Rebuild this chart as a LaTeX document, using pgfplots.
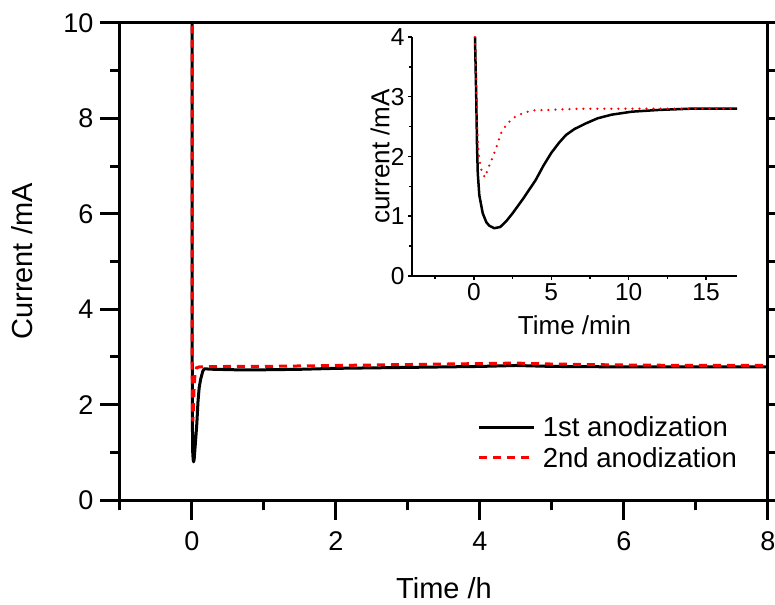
\documentclass[border=0pt]{standalone}
\usepackage{fontspec}
\setmainfont{Liberation Sans}
\usepackage{pgfplots}
\pgfplotsset{compat=1.18}
\begin{document}
\begin{tikzpicture}
\begin{axis}[
  at={(0pt,0pt)}, anchor=south west, scale only axis,
  width=648pt, height=477pt,
  xmin=-1, xmax=8, ymin=0, ymax=10,
  xtick={0,2,4,6,8}, minor xtick={-1,1,3,5,7},
  ytick={0,2,4,6,8,10}, minor ytick={1,3,5,7,9},
  xtick pos=bottom, ytick pos=both,
  tick align=outside,
  major tick length=20pt, minor tick length=10pt,
  tick style={line width=3pt, black},
  axis line style={line width=3pt},
  /pgf/number format/assume math mode=true,
  tick label style={font=\fontsize{27}{32}\selectfont},
  xticklabel style={yshift=-8pt},
  yticklabel style={xshift=-3pt},
  label style={font=\fontsize{29}{34}\selectfont},
  xlabel={Time /h}, ylabel={Current /mA},
  xlabel style={at={(axis description cs:0.5,-0.185)}, anchor=center},
  ylabel style={at={(axis description cs:-0.151,0.5)}, anchor=center},
  clip=true,
  legend cell align=left,
  legend image code/.code={\draw[#1] (0pt,0pt) -- (55pt,0pt);},
  legend style={draw=none, fill=none, at={(axis description cs:0.552,0.12)}, anchor=west,
    inner sep=0pt, row sep=5pt, font=\fontsize{27.5}{32}\selectfont,
    /tikz/every odd column/.append style={column sep=5pt}},
]
\addplot[black, line width=3pt, line join=round] coordinates {
(0,12)(0.002,4)(0.005,1.7)(0.01,1.0)(0.016,0.85)(0.022,0.8)(0.03,0.85)(0.04,1.05)(0.055,1.35)(0.067,1.6)(0.083,2.06)(0.1,2.36)(0.12,2.53)(0.15,2.7)(0.17,2.75)(0.3,2.74)(0.6,2.73)(1,2.73)(1.5,2.74)(2,2.76)(3,2.78)(4,2.8)(4.5,2.82)(5,2.8)(6,2.79)(7,2.79)(8,2.79)
};
\addlegendentry{1st anodization}
\addplot[red, line width=3pt, dash pattern=on 8pt off 6pt] coordinates {
(0,12)(0.002,4)(0.004,2.05)(0.008,1.75)(0.012,1.65)(0.017,1.85)(0.022,2.08)(0.03,2.4)(0.042,2.64)(0.063,2.77)(0.1,2.79)(0.5,2.8)(1,2.8)(2,2.82)(3,2.84)(4,2.86)(4.5,2.87)(5,2.85)(6,2.83)(7,2.82)(8,2.82)
};
\addlegendentry{2nd anodization}
\end{axis}
\begin{axis}[
  at={(292pt,224pt)}, anchor=south west, scale only axis,
  width=325pt, height=239pt,
  xmin=-4, xmax=17, ymin=0, ymax=4,
  axis x line*=bottom, axis y line*=left,
  xtick={0,5,10,15}, minor xtick={-2.5,2.5,7.5,12.5},
  ytick={0,1,2,3,4}, minor ytick={0.5,1.5,2.5,3.5},
  tick align=outside,
  major tick length=4pt, minor tick length=3pt,
  tick style={line width=1.5pt, black},
  axis line style={line width=2pt},
  /pgf/number format/assume math mode=true,
  tick label style={font=\fontsize{24.5}{29}\selectfont},
  label style={font=\fontsize{26}{31}\selectfont},
  xlabel={Time /min}, ylabel={current /mA},
  xlabel style={at={(axis description cs:0.5,-0.205)}, anchor=center},
  ylabel style={at={(axis description cs:-0.098,0.5)}, anchor=center},
]
\addplot[black, line width=2.5pt, line join=round] coordinates {
(0.07,4)(0.15,3.0)(0.2,2.2)(0.25,1.72)(0.35,1.35)(0.57,1.05)(0.8,0.9)(1.0,0.84)(1.32,0.8)(1.7,0.82)(2.1,0.92)(2.5,1.05)(3.2,1.3)(4.0,1.61)(4.5,1.85)(5.0,2.06)(5.5,2.23)(5.95,2.36)(6.5,2.46)(7.2,2.55)(8,2.64)(8.9,2.70)(10.2,2.75)(12,2.78)(14,2.8)(17,2.8)
};
\addplot[red, line width=2.5pt, line cap=round, dash pattern=on 0pt off 7pt] coordinates {
(0.07,4)(0.15,3.2)(0.22,2.5)(0.3,2.05)(0.45,1.8)(0.7,1.65)(1.0,1.85)(1.35,2.08)(1.77,2.4)(2.1,2.53)(2.5,2.64)(3.2,2.73)(3.8,2.77)(5,2.78)(6.8,2.8)(10,2.8)(17,2.8)
};
\end{axis}
\pgfresetboundingbox
\path[use as bounding box] (-120pt,-104pt) rectangle (655pt,500pt);
\end{tikzpicture}
\end{document}
